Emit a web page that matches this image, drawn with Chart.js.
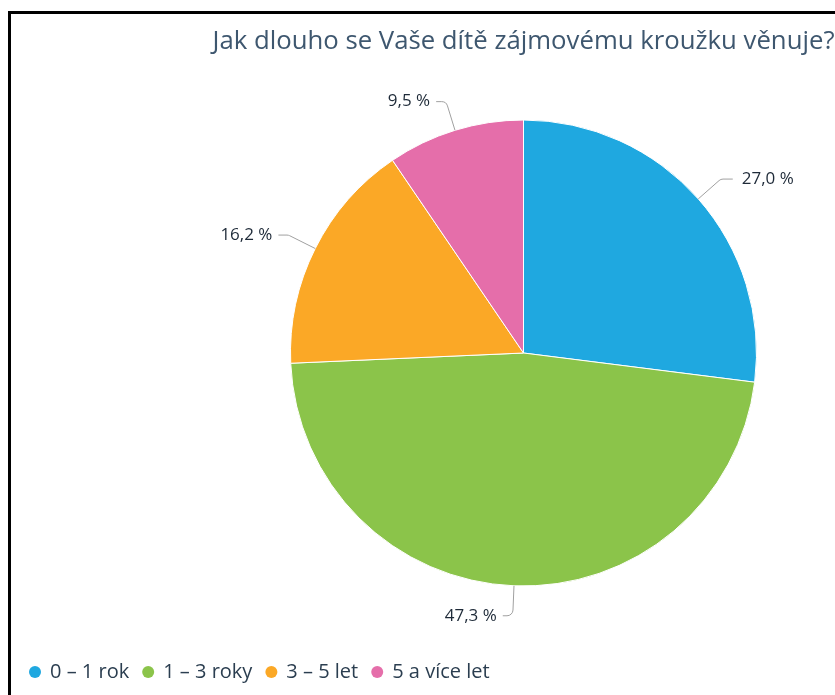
<!DOCTYPE html>
<html>
<head>
<meta charset="utf-8">
<script src="https://cdn.jsdelivr.net/npm/chart.js@4"></script>
<style>
  html, body { margin: 0; padding: 0; background: #fff; overflow: hidden; }
  #wrap { position: relative; width: 835px; height: 695px; }
  #frame { position: absolute; left: 8px; top: 11px; width: 900px; height: 700px;
           border-left: 3px solid #000; border-top: 3px solid #000; pointer-events: none; }
</style>
</head>
<body>
<div id="wrap">
  <canvas id="pieChart" width="835" height="695"></canvas>
  <div id="frame"></div>
</div>
<script>
const titleText = "Jak dlouho se Vaše dítě zájmovému kroužku věnuje?";
const categories = ["0 – 1 rok", "1 – 3 roky", "3 – 5 let", "5 a více let"];
const shares = [27.0, 47.3, 16.2, 9.5];
const colors = ['#1fa8e0', '#8bc44a', '#fba826', '#e56eaa'];

const fontName = "'Open Sans', 'DejaVu Sans', sans-serif";

// title drawn by hand so it is not squeezed to the chart area width
const topTitle = {
    id: 'topTitle',
    afterDraw(chart) {
        const ctx = chart.ctx;
        const area = chart.chartArea;
        ctx.save();
        ctx.font = '26px ' + fontName;
        ctx.fillStyle = '#3e576f';
        ctx.textAlign = 'center';
        ctx.textBaseline = 'middle';
        ctx.fillText(titleText, (area.left + area.right) / 2, 42, 622);
        ctx.restore();
    }
};

// labels outside the slices with a bent connector line
const pieLabels = {
    id: 'pieLabels',
    afterDatasetsDraw(chart) {
        const ctx = chart.ctx;
        const meta = chart.getDatasetMeta(0);
        ctx.save();
        ctx.font = '17px ' + fontName;
        ctx.textBaseline = 'middle';
        meta.data.forEach((arc, i) => {
            const mid = (arc.startAngle + arc.endAngle) / 2;
            const r = arc.outerRadius;
            const cos = Math.cos(mid), sin = Math.sin(mid);
            const ex = arc.x + r * cos, ey = arc.y + r * sin;
            const bx = arc.x + (r + 30) * cos, by = arc.y + (r + 30) * sin;
            const right = cos >= 0;
            const hx = bx + (right ? 12 : -10);
            ctx.strokeStyle = '#a0a0a0';
            ctx.lineWidth = 1;
            ctx.beginPath();
            ctx.moveTo(hx, by);
            ctx.arcTo(bx, by, ex, ey, 6);
            ctx.lineTo(ex, ey);
            ctx.stroke();
            ctx.fillStyle = '#1e2a38';
            ctx.textAlign = right ? 'left' : 'right';
            const txt = shares[i].toFixed(1).replace('.', ',') + ' %';
            ctx.fillText(txt, hx + (right ? 9 : -6), by);
        });
        ctx.restore();
    }
};

// legend drawn at the bottom left
const bottomLegend = {
    id: 'bottomLegend',
    afterDraw(chart) {
        const ctx = chart.ctx;
        ctx.save();
        ctx.font = '20px ' + fontName;
        ctx.textBaseline = 'middle';
        ctx.textAlign = 'left';
        let x = 35;
        const y = 672;
        chart.data.labels.forEach((lab, i) => {
            ctx.fillStyle = chart.data.datasets[0].backgroundColor[i];
            ctx.beginPath();
            ctx.arc(x, y, 6, 0, Math.PI * 2);
            ctx.fill();
            ctx.fillStyle = '#2b3e50';
            ctx.fillText(lab, x + 15, y);
            x += 15 + ctx.measureText(lab).width + 19;
        });
        ctx.restore();
    }
};

new Chart(document.getElementById('pieChart'), {
    type: 'pie',
    data: {
        labels: categories,
        datasets: [{
            data: shares,
            backgroundColor: colors,
            borderColor: '#ffffff',
            borderWidth: 1
        }]
    },
    options: {
        responsive: false,
        animation: false,
        layout: { padding: { left: 290, right: 78, top: 119, bottom: 108 } },
        plugins: {
            legend: { display: false },
            tooltip: { enabled: false },
            title: { display: false }
        }
    },
    plugins: [topTitle, pieLabels, bottomLegend]
});
</script>
</body>
</html>
